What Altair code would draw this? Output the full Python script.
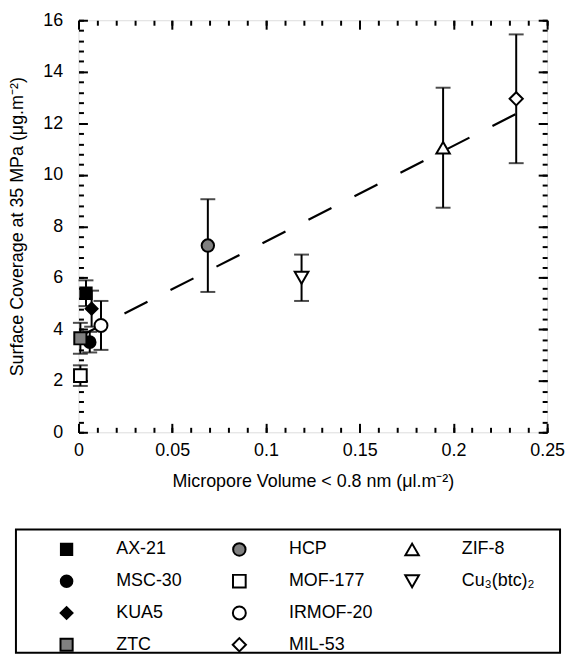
import altair as alt
import pandas as pd

# ---- data ----
names = ["AX-21", "MSC-30", "KUA5", "ZTC", "HCP", "MOF-177", "IRMOF-20", "MIL-53", "ZIF-8", "Cu₃(btc)₂"]
shapes = ["square", "circle", "diamond", "square", "circle", "square", "circle", "diamond", "triangle-up", "triangle-down"]
fills = ["#000000", "#000000", "#000000", "#808080", "#808080", "#ffffff", "#ffffff", "#ffffff", "#ffffff", "#ffffff"]
marker_sizes = [130, 190, 230, 130, 190, 130, 190, 230, 260, 260]
micropore = [0.004, 0.006, 0.007, 0.001, 0.069, 0.001, 0.012, 0.2335, 0.1945, 0.119]
coverage = [5.4, 3.5, 4.8, 3.65, 7.25, 2.2, 4.15, 12.95, 11.05, 6.0]
error = [0.5, 0.4, 0.7, 0.6, 1.8, 0.4, 0.95, 2.5, 2.33, 0.9]
fit_x = [0.0, 0.243]
fit_y = [3.7, 12.72]
x_major = [0, 0.05, 0.1, 0.15, 0.2, 0.25]
x_minor = [round(i * 0.01, 2) for i in range(26)]
y_major = [0, 2, 4, 6, 8, 10, 12, 14, 16]
y_minor = [round(i * 0.4, 1) for i in range(41)]

FONT = "Liberation Sans"
FS = 18

df = pd.DataFrame({"name": names, "x": micropore, "y": coverage, "err": error})
df["lo"] = df["y"] - df["err"]
df["hi"] = df["y"] + df["err"]
fit = pd.DataFrame({"x": fit_x, "y": fit_y})

xs = alt.Scale(domain=[0, 0.25], nice=False, zero=False)
ys = alt.Scale(domain=[0, 16], nice=False, zero=False)

shape_scale = alt.Scale(domain=names, range=shapes)
fill_scale = alt.Scale(domain=names, range=fills)
size_scale = alt.Scale(domain=names, range=marker_sizes)


def ax(orient, values, major, labels=False, title=None, **kw):
    t = 9 if major else 5
    args = dict(orient=orient, values=values, tickSize=t, offset=-t, domain=False,
                grid=False, labels=labels, tickWidth=2, tickColor="black",
                title=title, ticks=True)
    if labels:
        args.update(format="~g", labelFont=FONT, labelFontSize=FS, labelColor="black",
                    labelFlush=False, labelOverlap=False)
    if title:
        args.update(titleFont=FONT, titleFontSize=FS, titleFontWeight="normal",
                    titleColor="black")
    args.update(kw)
    return alt.Axis(**args)


line = alt.Chart(fit).mark_line(color="black", strokeWidth=2.2, strokeDash=[26, 26]).encode(
    x=alt.X("x:Q", scale=xs, axis=ax("bottom", x_major, True, True,
                                     title="Micropore Volume < 0.8 nm (μl.m⁻²)",
                                     labelPadding=9, titlePadding=14)),
    y=alt.Y("y:Q", scale=ys, axis=ax("left", y_major, True, True,
                                     title="Surface Coverage at 35 MPa (μg.m⁻²)",
                                     labelPadding=16, titlePadding=16)),
)

bars = alt.Chart(df).mark_rule(color="black", strokeWidth=2).encode(
    x=alt.X("x:Q", scale=xs, axis=ax("bottom", x_minor, False)),
    y=alt.Y("lo:Q", scale=ys, axis=ax("left", y_minor, False)),
    y2="hi:Q",
)

caps_lo = alt.Chart(df).mark_tick(color="black", orient="horizontal", size=15, thickness=2).encode(
    x=alt.X("x:Q", scale=xs, axis=ax("top", x_major, True)),
    y=alt.Y("lo:Q", scale=ys, axis=ax("right", y_major, True)),
)
caps_hi = alt.Chart(df).mark_tick(color="black", orient="horizontal", size=15, thickness=2).encode(
    x=alt.X("x:Q", scale=xs, axis=None),
    y=alt.Y("hi:Q", scale=ys, axis=None),
)

points = alt.Chart(df).mark_point(filled=False, stroke="black", strokeWidth=2, opacity=1).encode(
    x=alt.X("x:Q", scale=xs, axis=ax("top", x_minor, False)),
    y=alt.Y("y:Q", scale=ys, axis=ax("right", y_minor, False)),
    shape=alt.Shape("name:N", scale=shape_scale, legend=None),
    fill=alt.Fill("name:N", scale=fill_scale, legend=None),
    size=alt.Size("name:N", scale=size_scale, legend=None),
)

main = alt.layer(line, bars, caps_lo, caps_hi, points).resolve_axis(
    x="independent", y="independent"
).properties(width=472, height=415)

# ---- legend box (origin aligned with the plot's left edge) ----
leg = pd.DataFrame({"name": names})
leg["col"] = [i // 4 for i in range(len(names))]
leg["row"] = [i % 4 for i in range(len(names))]

LH = 124
lx = alt.Scale(domain=[0, 2], range=[-12, 336])
ly = alt.Scale(domain=[0, 3], range=[20, 116])

frame = alt.Chart(pd.DataFrame({"a": [0]})).mark_rect(
    fill="white", stroke="black", strokeWidth=2
).encode(x=alt.value(-63), x2=alt.value(485), y=alt.value(0), y2=alt.value(LH))

leg_sym = alt.Chart(leg).mark_point(filled=False, stroke="black", strokeWidth=2, opacity=1).encode(
    x=alt.X("col:Q", scale=lx, axis=None),
    y=alt.Y("row:Q", scale=ly, axis=None),
    shape=alt.Shape("name:N", scale=shape_scale, legend=None),
    fill=alt.Fill("name:N", scale=fill_scale, legend=None),
    size=alt.Size("name:N", scale=size_scale, legend=None),
)
leg_txt = alt.Chart(leg).mark_text(align="left", baseline="middle", dx=50, font=FONT,
                                   fontSize=FS, color="black").encode(
    x=alt.X("col:Q", scale=lx, axis=None),
    y=alt.Y("row:Q", scale=ly, axis=None),
    text="name:N",
)

legend_chart = alt.layer(frame, leg_sym, leg_txt).properties(
    width=470, height=LH, view=alt.ViewBackground(stroke=None)
)

chart = alt.vconcat(main, legend_chart, spacing=37).properties(padding=0).configure_view(
    stroke="black", strokeWidth=2
).configure(font=FONT)

chart.save("out.html", embed_options={"renderer": "svg", "actions": False})
